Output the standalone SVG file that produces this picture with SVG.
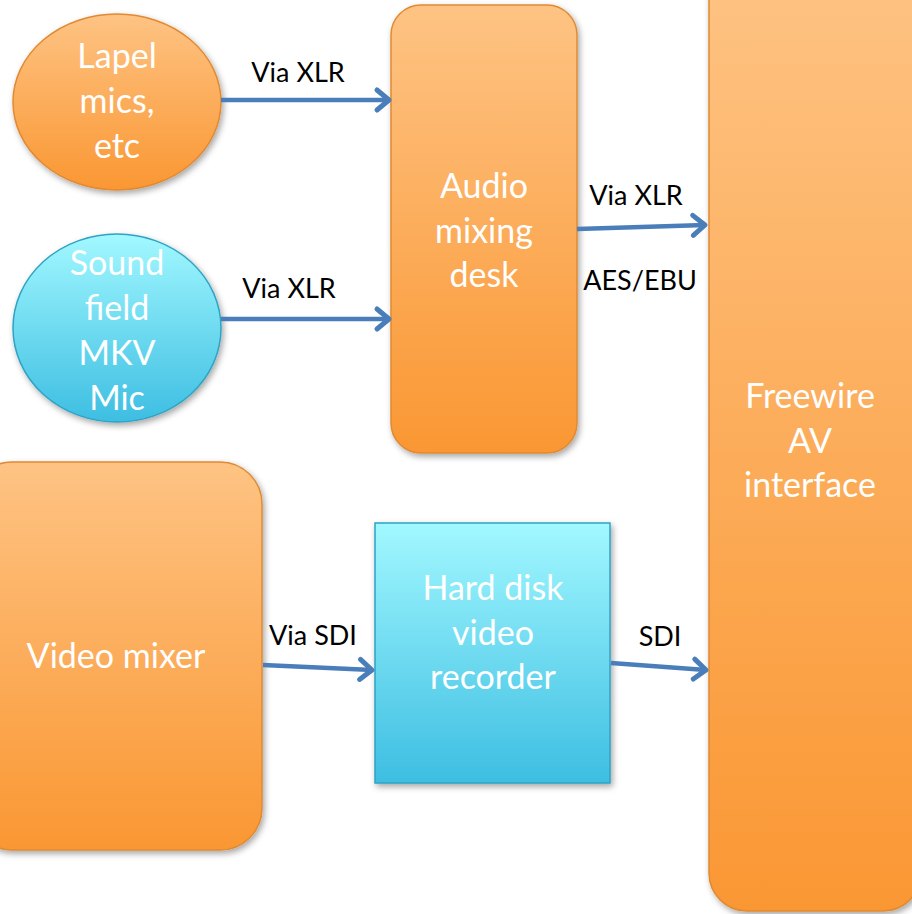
<svg xmlns="http://www.w3.org/2000/svg" width="912" height="914" viewBox="0 0 912 914">
<defs>
  <linearGradient id="gOrange" x1="0" y1="0" x2="0" y2="1">
    <stop offset="0" stop-color="#FEC383"/>
    <stop offset="1" stop-color="#FA9733"/>
  </linearGradient>
  <linearGradient id="gCyan" x1="0" y1="0" x2="0" y2="1">
    <stop offset="0" stop-color="#A2F8FF"/>
    <stop offset="1" stop-color="#3DBEE2"/>
  </linearGradient>
  <filter id="shadow" x="-20%" y="-20%" width="140%" height="140%">
    <feDropShadow dx="2" dy="3" stdDeviation="3" flood-color="#000" flood-opacity="0.35"/>
  </filter>
  <marker id="arrow" markerUnits="userSpaceOnUse" markerWidth="20" markerHeight="28" viewBox="0 0 20 28" refX="16" refY="14" orient="auto">
    <path d="M4,4 L16,14 L4,24" fill="none" stroke="#4A7EBB" stroke-width="5" stroke-linecap="round" stroke-linejoin="round"/>
  </marker>
</defs>
<style>
  .orange { fill: url(#gOrange); stroke: #E08A33; stroke-width: 1.5; filter: url(#shadow); }
  .cyan { fill: url(#gCyan); stroke: #2FA3C4; stroke-width: 1.5; filter: url(#shadow); }
  .nt { font-family: Lato, "Open Sans", "Liberation Sans", sans-serif; font-size: 34px; fill: #FFFFFF; text-anchor: middle; }
  .lbl { font-family: Lato, "Open Sans", "Liberation Sans", sans-serif; font-size: 27px; fill: #000000; text-anchor: middle; }
  .conn { stroke: #4A7EBB; stroke-width: 4.5; fill: none; marker-end: url(#arrow); }
</style>
<rect width="912" height="914" fill="#FFFFFF"/>

<g id="freewire">
  <rect class="orange" x="709" y="-40" width="212" height="951" rx="38"/>
  <text class="nt" x="810" y="408">Freewire</text>
  <text class="nt" x="810" y="453">AV</text>
  <text class="nt" x="810" y="497">interface</text>
</g>

<g id="lapel">
  <ellipse class="orange" cx="117" cy="102" rx="104" ry="88"/>
  <text class="nt" x="117" y="68">Lapel</text>
  <text class="nt" x="117" y="113">mics,</text>
  <text class="nt" x="117" y="158">etc</text>
</g>

<g id="soundfield">
  <ellipse class="cyan" cx="117" cy="328" rx="104" ry="94"/>
  <text class="nt" x="117" y="275">Sound</text>
  <text class="nt" x="117" y="320">field</text>
  <text class="nt" x="117" y="365">MKV</text>
  <text class="nt" x="117" y="410">Mic</text>
</g>

<g id="audiodesk">
  <rect class="orange" x="391" y="5" width="186" height="448" rx="30"/>
  <text class="nt" x="484" y="198">Audio</text>
  <text class="nt" x="484" y="243">mixing</text>
  <text class="nt" x="484" y="287">desk</text>
</g>

<g id="videomixer">
  <rect class="orange" x="-30" y="462" width="292" height="388" rx="42"/>
  <text class="nt" x="116" y="668">Video mixer</text>
</g>

<g id="hdrecorder">
  <rect class="cyan" x="375" y="523" width="235" height="260"/>
  <text class="nt" x="493" y="600">Hard disk</text>
  <text class="nt" x="493" y="645">video</text>
  <text class="nt" x="493" y="689">recorder</text>
</g>

<g id="connectors">
  <line class="conn" x1="221" y1="100" x2="389" y2="100"/>
  <text class="lbl" x="298" y="82">Via XLR</text>

  <line class="conn" x1="221" y1="319" x2="389" y2="319"/>
  <text class="lbl" x="289" y="298">Via XLR</text>

  <line class="conn" x1="577" y1="229" x2="705" y2="225"/>
  <text class="lbl" x="636" y="205">Via XLR</text>
  <text class="lbl" x="640" y="290">AES/EBU</text>

  <line class="conn" x1="263" y1="665" x2="372" y2="670"/>
  <text class="lbl" x="313" y="645">Via SDI</text>

  <line class="conn" x1="611" y1="663" x2="706" y2="670"/>
  <text class="lbl" x="660" y="646">SDI</text>
</g>
</svg>
